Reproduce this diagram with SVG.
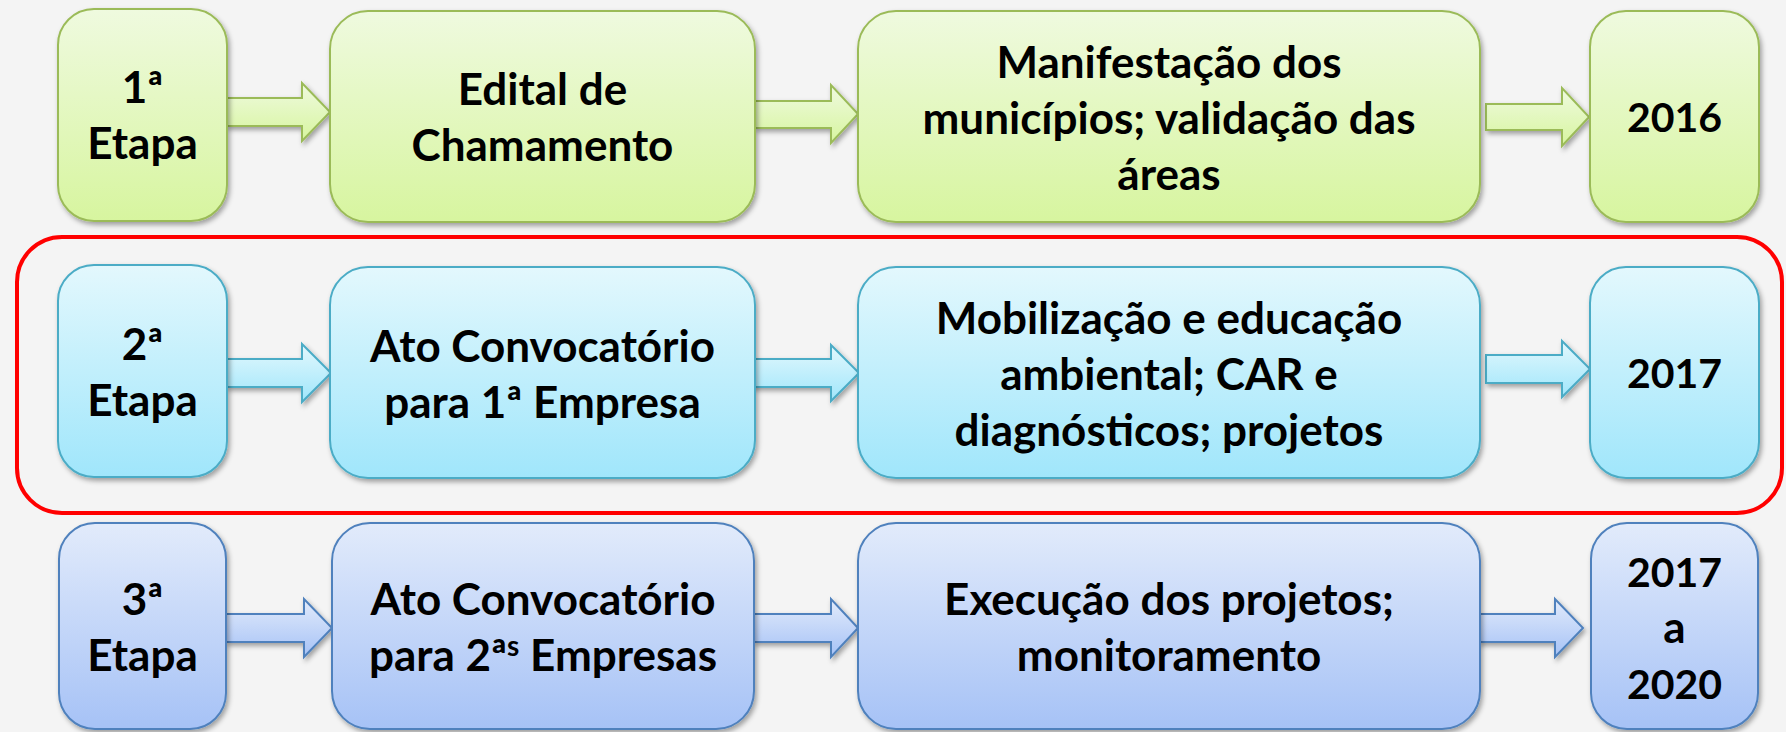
<svg xmlns="http://www.w3.org/2000/svg" width="1786" height="732" viewBox="0 0 1786 732">
<defs>
<linearGradient id="gG" x1="0" y1="0" x2="0" y2="1"><stop offset="0" stop-color="#EFFADF"/><stop offset="1" stop-color="#D7F59F"/></linearGradient>
<linearGradient id="gC" x1="0" y1="0" x2="0" y2="1"><stop offset="0" stop-color="#E3F8FD"/><stop offset="1" stop-color="#A0E6FB"/></linearGradient>
<linearGradient id="gB" x1="0" y1="0" x2="0" y2="1"><stop offset="0" stop-color="#E2EBFB"/><stop offset="1" stop-color="#A6C2F6"/></linearGradient>
<filter id="sh" x="-10%" y="-10%" width="130%" height="130%"><feDropShadow dx="2" dy="3" stdDeviation="2.5" flood-color="#000" flood-opacity="0.35"/></filter>
</defs>
<style>
.g{fill:url(#gG);stroke:#9BBB59;stroke-width:2;filter:url(#sh)}
.c{fill:url(#gC);stroke:#4BACC6;stroke-width:2;filter:url(#sh)}
.b{fill:url(#gB);stroke:#4F81BD;stroke-width:2;filter:url(#sh)}
.t{font-family:Lato,"Liberation Sans",sans-serif;font-weight:700;font-size:44px;fill:#000;text-anchor:middle}
.y{font-size:41px}
</style>
<rect x="0" y="0" width="1786" height="732" fill="#F4F4F4"/>
<rect id="highlight" x="17" y="237" width="1765" height="276" rx="45" fill="none" stroke="#FF0000" stroke-width="4"/>

<g id="connectors">
<polygon class="g" points="227,98 302,98 302,83 330,112 302,141 302,126 227,126"/>
<polygon class="g" points="755,101 831,101 831,85 858,114 831,143 831,128 755,128"/>
<polygon class="g" points="1486,104 1562,104 1562,88 1589,117 1562,146 1562,130 1486,130"/>
<polygon class="c" points="227,359 302,359 302,344 331,373 302,402 302,387 227,387"/>
<polygon class="c" points="753,359 831,359 831,345 859,373 831,401 831,387 753,387"/>
<polygon class="c" points="1486,355 1562,355 1562,341 1590,369 1562,397 1562,383 1486,383"/>
<polygon class="b" points="226,614 304,614 304,599 332,628 304,657 304,642 226,642"/>
<polygon class="b" points="754,614 831,614 831,599 858,628 831,657 831,642 754,642"/>
<polygon class="b" points="1479,614 1555,614 1555,599 1583,628 1555,657 1555,642 1479,642"/>
</g>

<g id="r1n1"><rect class="g" x="58" y="9" width="169" height="212" rx="36"/>
<text class="t" x="142.5" y="103">1ª</text><text class="t" x="142.5" y="159">Etapa</text></g>
<g id="r1n2"><rect class="g" x="330" y="11" width="425" height="211" rx="38"/>
<text class="t" x="542.5" y="105">Edital de</text><text class="t" x="542.5" y="161">Chamamento</text></g>
<g id="r1n3"><rect class="g" x="858" y="11" width="622" height="211" rx="38"/>
<text class="t" x="1169" y="78">Manifestação dos</text><text class="t" x="1169" y="134">municípios; validação das</text><text class="t" x="1169" y="190">áreas</text></g>
<g id="r1n4"><rect class="g" x="1590" y="11" width="169" height="211" rx="36"/>
<text class="t y" x="1674.5" y="132">2016</text></g>

<g id="r2n1"><rect class="c" x="58" y="265" width="169" height="212" rx="36"/>
<text class="t" x="142.5" y="360">2ª</text><text class="t" x="142.5" y="416">Etapa</text></g>
<g id="r2n2"><rect class="c" x="330" y="267" width="425" height="211" rx="38"/>
<text class="t" x="542.5" y="362">Ato Convocatório</text><text class="t" x="542.5" y="418">para 1ª Empresa</text></g>
<g id="r2n3"><rect class="c" x="858" y="267" width="622" height="211" rx="38"/>
<text class="t" x="1169" y="334">Mobilização e educação</text><text class="t" x="1169" y="390">ambiental; CAR e</text><text class="t" x="1169" y="446">diagnósticos; projetos</text></g>
<g id="r2n4"><rect class="c" x="1590" y="267" width="169" height="211" rx="36"/>
<text class="t y" x="1674.5" y="388">2017</text></g>

<g id="r3n1"><rect class="b" x="59" y="523" width="167" height="206" rx="36"/>
<text class="t" x="142.5" y="615">3ª</text><text class="t" x="142.5" y="671">Etapa</text></g>
<g id="r3n2"><rect class="b" x="332" y="523" width="422" height="206" rx="38"/>
<text class="t" x="543" y="615">Ato Convocatório</text><text class="t" x="543" y="671">para 2ª<tspan font-size="28" dy="-15">s</tspan><tspan dy="15"> Empresas</tspan></text></g>
<g id="r3n3"><rect class="b" x="858" y="523" width="622" height="206" rx="38"/>
<text class="t" x="1169" y="615">Execução dos projetos;</text><text class="t" x="1169" y="671">monitoramento</text></g>
<g id="r3n4"><rect class="b" x="1591" y="523" width="167" height="206" rx="36"/>
<text class="t y" x="1674.5" y="587">2017</text><text class="t" x="1674.5" y="643">a</text><text class="t y" x="1674.5" y="699">2020</text></g>
</svg>
